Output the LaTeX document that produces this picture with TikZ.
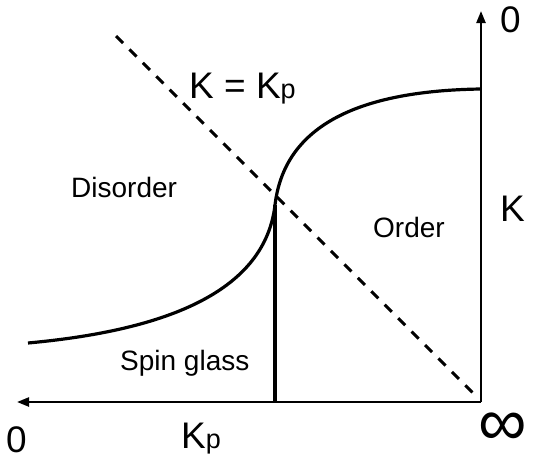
\documentclass[tikz,border=0pt]{standalone}
\usepackage{fontspec}
\setmainfont{Liberation Sans}
\usetikzlibrary{arrows.meta}
\tikzset{
  axis/.style={line width=2.3pt, -{Triangle[length=12pt,width=9pt]}},
  phase/.style={line width=3.2pt},
  diag/.style={line width=3pt, dash pattern=on 10pt off 9pt},
  biglabel/.style={inner sep=0pt, anchor=base west, font=\fontsize{37}{40}\selectfont},
  region/.style={inner sep=0pt, anchor=base west, font=\fontsize{28}{32}\selectfont},
}
\newcommand{\smallp}{{\fontsize{27}{30}\selectfont p}}
\begin{document}
\begin{tikzpicture}[x=1pt,y=-1pt]
\useasboundingbox (0,0) rectangle (533,459);
% coordinates
\coordinate (corner) at (481,402);
\coordinate (xtip) at (17,402);
\coordinate (ytip) at (481,11);
\coordinate (kp) at (275,402);
\coordinate (join) at (275,205);
\coordinate (left) at (28,343);
\coordinate (right) at (481,89);
\coordinate (dstart) at (116,36);
\coordinate (dend) at (478,398);
% axes
\draw[axis] (corner) -- (xtip);
\draw[axis] (corner) -- (ytip);
% phase boundaries
\draw[phase] (left) .. controls (170,330) and (265,290) .. (join)
  .. controls (283,138) and (338,91) .. (right);
\draw[phase] (kp) -- (join);
% K = Kp line
\draw[diag] (dstart) -- (dend);
% labels
\node[biglabel] (eq) at (189,98) {K = K\smallp};
\node[biglabel] (kplab) at (181,448) {K\smallp};
\node[biglabel] (zerotop) at (500,32) {0};
\node[biglabel] (zerobot) at (6,452) {0};
\node[biglabel] (klab) at (500,221) {K};
\node[inner sep=0pt, font=\fontsize{68}{72}\selectfont] (inf) at (503,429) {∞};
\node[region] (dis) at (71,197) {Disorder};
\node[region] (ord) at (373,237) {Order};
\node[region] (sg) at (120,370) {Spin glass};
\end{tikzpicture}
\end{document}
